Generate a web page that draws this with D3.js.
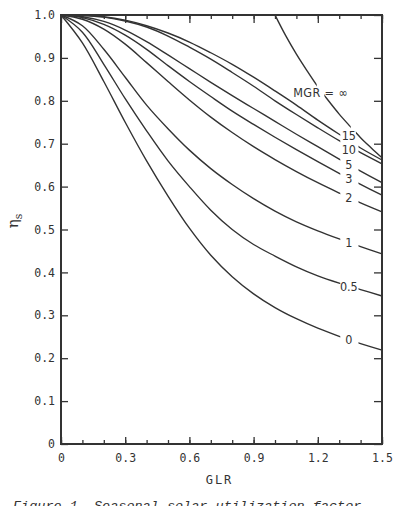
<!DOCTYPE html>
<html>
<head>
<meta charset="utf-8">
<script src="https://cdn.jsdelivr.net/npm/d3@7"></script>
<style>
  body { margin: 0; background: #fff; }
  svg { display: block; }
</style>
</head>
<body>
<div class="canvas"></div>
<script>
// GLR values where the curves were read
const glr = [0, 0.1, 0.2, 0.3, 0.4, 0.5, 0.6, 0.7, 0.8, 0.9, 1.0, 1.1, 1.2, 1.3, 1.4, 1.5];

// seasonal utilization factor, one array per MGR
const eta0   = [1.0, 0.935, 0.845, 0.75, 0.66, 0.578, 0.503, 0.44, 0.39, 0.35, 0.318, 0.292, 0.27, 0.251, 0.234, 0.219];
const eta05  = [1.0, 0.96, 0.885, 0.805, 0.73, 0.66, 0.60, 0.545, 0.50, 0.465, 0.438, 0.413, 0.392, 0.375, 0.36, 0.345];
const eta1   = [1.0, 0.975, 0.92, 0.855, 0.79, 0.735, 0.685, 0.642, 0.605, 0.572, 0.543, 0.518, 0.497, 0.478, 0.46, 0.443];
const eta2   = [1.0, 0.99, 0.967, 0.932, 0.889, 0.845, 0.802, 0.762, 0.726, 0.693, 0.663, 0.635, 0.609, 0.585, 0.562, 0.541];
const eta3   = [1.0, 0.994, 0.978, 0.953, 0.92, 0.882, 0.845, 0.81, 0.776, 0.745, 0.715, 0.686, 0.658, 0.631, 0.605, 0.58];
const eta5   = [1.0, 0.996, 0.985, 0.965, 0.938, 0.907, 0.875, 0.843, 0.812, 0.782, 0.752, 0.722, 0.693, 0.664, 0.636, 0.609];
const eta10  = [1.0, 0.999, 0.995, 0.986, 0.972, 0.951, 0.925, 0.897, 0.866, 0.834, 0.80, 0.768, 0.737, 0.707, 0.679, 0.653];
const eta15  = [1.0, 0.999, 0.996, 0.988, 0.975, 0.958, 0.937, 0.912, 0.885, 0.855, 0.823, 0.79, 0.755, 0.722, 0.69, 0.662];

// MGR = infinity runs along the top until GLR = 1, then falls
const glrInf = [0, 1.0, 1.05, 1.1, 1.15, 1.2, 1.25, 1.3, 1.35, 1.4, 1.45, 1.5];
const etaInf = [1.0, 1.0, 0.952, 0.909, 0.87, 0.833, 0.80, 0.769, 0.741, 0.714, 0.69, 0.667];

const mgrLabels = ['0', '0.5', '1', '2', '3', '5', '10', '15'];
const mgrSeries = [eta0, eta05, eta1, eta2, eta3, eta5, eta10, eta15];

const xMajor = [0, 0.3, 0.6, 0.9, 1.2, 1.5];
const xMinor = d3.range(0, 16).map(i => i / 10);
const yTicks = d3.range(0, 11).map(i => i / 10);

const W = 419, H = 506;
const m = { left: 61, right: 37, top: 15, bottom: 62 };

const svg = d3.select('.canvas')
    .append('svg')
    .attr('width', W)
    .attr('height', H);

const x = d3.scaleLinear().domain([0, 1.5]).range([m.left, W - m.right]);
const y = d3.scaleLinear().domain([0, 1]).range([H - m.bottom, m.top]);

const ink = '#333';
const mono = "'DejaVu Sans Mono', monospace";
const cond = "'DejaVu Sans Condensed', 'DejaVu Sans', sans-serif";

// ticks, all pointing into the plot
const styleAxis = g => {
    g.select('.domain').remove();
    g.selectAll('.tick line').attr('stroke', ink).attr('stroke-width', 1.3);
    g.selectAll('.tick text')
        .attr('fill', ink)
        .style('font-family', mono)
        .style('font-size', '11.5px');
};

const fmt = d => d === 0 ? '0' : d3.format('.1f')(d);

svg.append('g')
    .attr('transform', `translate(${m.left},0)`)
    .call(d3.axisLeft(y).tickValues(yTicks).tickSize(-7).tickPadding(6).tickFormat(fmt))
    .call(styleAxis);

svg.append('g')
    .attr('transform', `translate(${W - m.right},0)`)
    .call(d3.axisRight(y).tickValues(yTicks).tickSize(-8).tickFormat(''))
    .call(styleAxis);

svg.append('g')
    .attr('transform', `translate(0,${H - m.bottom})`)
    .call(d3.axisBottom(x).tickValues(xMinor).tickSize(-4).tickFormat(''))
    .call(styleAxis);

svg.append('g')
    .attr('transform', `translate(0,${H - m.bottom})`)
    .call(d3.axisBottom(x).tickValues(xMajor).tickSize(-7).tickPadding(10).tickFormat(fmt))
    .call(styleAxis);

svg.append('g')
    .attr('transform', `translate(0,${m.top})`)
    .call(d3.axisTop(x).tickValues(xMinor).tickSize(-4).tickFormat(''))
    .call(styleAxis);

svg.append('g')
    .attr('transform', `translate(0,${m.top})`)
    .call(d3.axisTop(x).tickValues(xMajor).tickSize(-8).tickFormat(''))
    .call(styleAxis);

// clip paths that leave a gap where the labels sit
const defs = svg.append('defs');
const addClip = (id, gaps) => {
    const cp = defs.append('clipPath').attr('id', id);
    let start = 0;
    gaps.forEach(([a, b]) => {
        cp.append('rect')
            .attr('x', x(start) - 2).attr('y', 0)
            .attr('width', x(a) - x(start) + 2).attr('height', H);
        start = b;
    });
    cp.append('rect')
        .attr('x', x(start)).attr('y', 0)
        .attr('width', x(1.5) - x(start) + 2).attr('height', H);
};
addClip('gap-mgr', [[1.305, 1.39]]);
addClip('gap-inf', [[1.195, 1.24], [1.354, 1.378]]);

const line = d3.line()
    .x(d => x(d[0]))
    .y(d => y(d[1]))
    .curve(d3.curveCatmullRom.alpha(0.5));

const curves = svg.append('g');

mgrSeries.forEach(s => {
    curves.append('path')
        .attr('class', 'curve')
        .attr('fill', 'none')
        .attr('stroke', ink)
        .attr('stroke-width', 1.4)
        .attr('clip-path', 'url(#gap-mgr)')
        .attr('d', line(glr.map((g, j) => [g, s[j]])));
});

const infPts = glrInf.map((g, j) => [g, etaInf[j]]);
curves.append('path')
    .attr('fill', 'none')
    .attr('stroke', ink)
    .attr('stroke-width', 1.4)
    .attr('d', d3.line().x(d => x(d[0])).y(d => y(d[1]))(infPts.slice(0, 2)));
curves.append('path')
    .attr('fill', 'none')
    .attr('stroke', ink)
    .attr('stroke-width', 1.4)
    .attr('clip-path', 'url(#gap-inf)')
    .attr('d', d3.line().x(d => x(d[0])).y(d => y(d[1])).curve(d3.curveMonotoneX)(infPts.slice(1)));

// frame
svg.append('rect')
    .attr('x', m.left).attr('y', m.top)
    .attr('width', W - m.left - m.right)
    .attr('height', H - m.top - m.bottom)
    .attr('fill', 'none')
    .attr('stroke', ink)
    .attr('stroke-width', 2);

// curve labels, centred on the curve inside the gap
const labelX = 1.345;
const nudge = { '15': -5, '10': 3 };
mgrSeries.forEach((s, i) => {
    const lab = mgrLabels[i];
    const v = d3.scaleLinear().domain(glr).range(s)(labelX);
    svg.append('text')
        .attr('x', x(labelX))
        .attr('y', y(v) + (nudge[lab] || 0))
        .attr('dy', '0.36em')
        .attr('text-anchor', 'middle')
        .attr('fill', ink)
        .style('font-family', cond)
        .style('font-size', '12.5px')
        .text(lab);
});

svg.append('text')
    .attr('x', x(1.085))
    .attr('y', y(0.82))
    .attr('dy', '0.36em')
    .attr('fill', ink)
    .style('font-family', cond)
    .style('font-size', '12.5px')
    .style('letter-spacing', '0.4px')
    .text('MGR = ∞');

// axis titles
svg.append('text')
    .attr('x', (x(0) + x(1.5)) / 2 - 2)
    .attr('y', 484)
    .attr('text-anchor', 'middle')
    .attr('fill', ink)
    .style('font-family', mono)
    .style('font-size', '12px')
    .style('letter-spacing', '2px')
    .text('GLR');

const yt = svg.append('text')
    .attr('transform', `translate(18, ${y(0.52)}) rotate(-90)`)
    .attr('text-anchor', 'middle')
    .attr('fill', ink)
    .style('font-family', "'DejaVu Serif', serif")
    .style('font-size', '15px');
yt.append('tspan').text('η');
yt.append('tspan').attr('dy', 4).style('font-size', '11px').text('s');

// caption, cut by the bottom edge as in the scan
svg.append('text')
    .attr('x', 13)
    .attr('y', 510)
    .attr('fill', ink)
    .style('font-family', "'Liberation Mono', monospace")
    .style('font-style', 'italic')
    .style('font-size', '13.5px')
    .text('Figure 1.  Seasonal solar utilization factor');
</script>
</body>
</html>
